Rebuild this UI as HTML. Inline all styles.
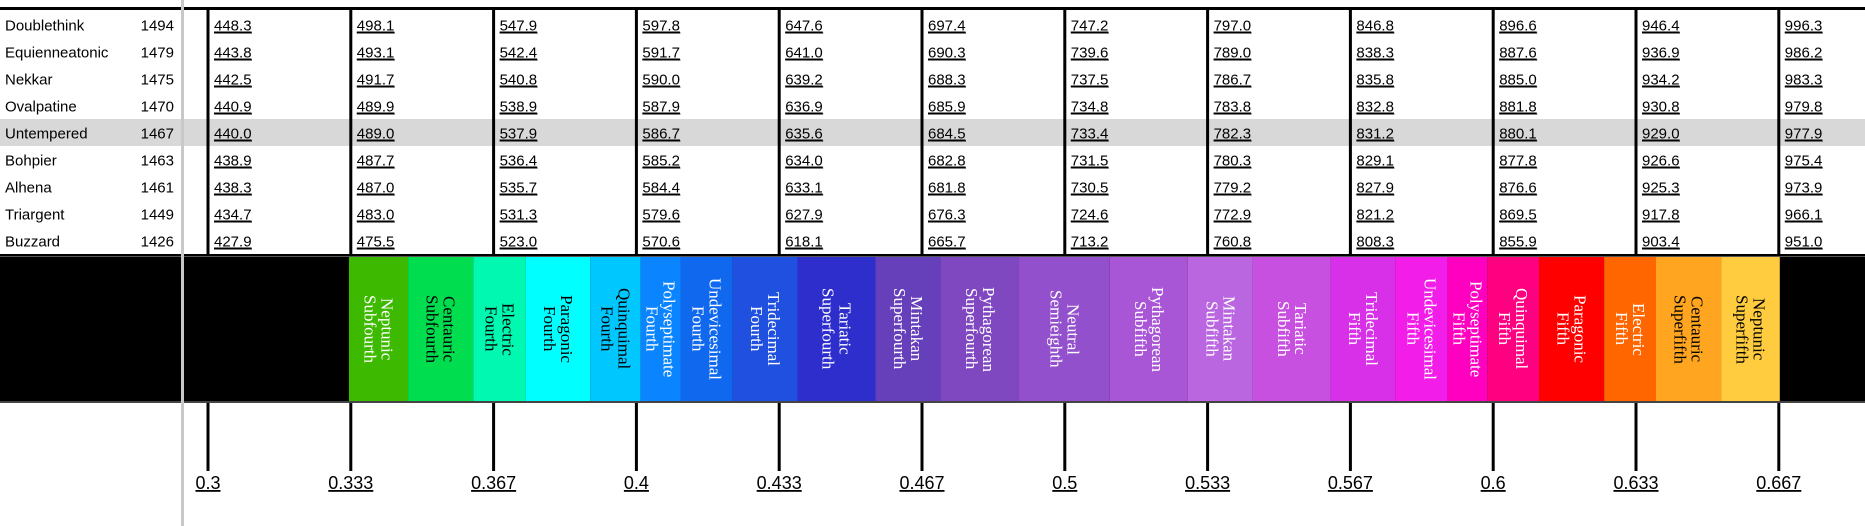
<!DOCTYPE html>
<html><head><meta charset="utf-8">
<style>
html,body{margin:0;padding:0;background:#fff;}
body{width:1865px;height:526px;overflow:hidden;position:relative;font-family:"Liberation Sans",sans-serif;}
svg{position:absolute;left:0;top:0;}
</style></head>
<body>
<svg id="chart" width="1865" height="526" xmlns="http://www.w3.org/2000/svg"></svg>
<script>
const tuningNames=["Doublethink","Equienneatonic","Nekkar","Ovalpatine","Untempered","Bohpier","Alhena","Triargent","Buzzard"];
const tuningCents=[1494,1479,1475,1470,1467,1463,1461,1449,1426];
const tickValues=[0.3,1/3,11/30,0.4,13/30,14/30,0.5,16/30,17/30,0.6,19/30,20/30];
const tickLabels=["0.3","0.333","0.367","0.4","0.433","0.467","0.5","0.533","0.567","0.6","0.633","0.667"];
const col0=[448.3,443.8,442.5,440.9,440.0,438.9,438.3,434.7,427.9];
const col1=[498.1,493.1,491.7,489.9,489.0,487.7,487.0,483.0,475.5];
const col2=[547.9,542.4,540.8,538.9,537.9,536.4,535.7,531.3,523.0];
const col3=[597.8,591.7,590.0,587.9,586.7,585.2,584.4,579.6,570.6];
const col4=[647.6,641.0,639.2,636.9,635.6,634.0,633.1,627.9,618.1];
const col5=[697.4,690.3,688.3,685.9,684.5,682.8,681.8,676.3,665.7];
const col6=[747.2,739.6,737.5,734.8,733.4,731.5,730.5,724.6,713.2];
const col7=[797.0,789.0,786.7,783.8,782.3,780.3,779.2,772.9,760.8];
const col8=[846.8,838.3,835.8,832.8,831.2,829.1,827.9,821.2,808.3];
const col9=[896.6,887.6,885.0,881.8,880.1,877.8,876.6,869.5,855.9];
const col10=[946.4,936.9,934.2,930.8,929.0,926.6,925.3,917.8,903.4];
const col11=[996.3,986.2,983.3,979.8,977.9,975.4,973.9,966.1,951.0];
const columns=[col0,col1,col2,col3,col4,col5,col6,col7,col8,col9,col10,col11];
const regionNames=["Neptunic Subfourth","Centauric Subfourth","Electric Fourth","Paragonic Fourth","Quinquimal Fourth","Polyseptimate Fourth","Undevicesimal Fourth","Tridecimal Fourth","Tariatic Superfourth","Mintakan Superfourth","Pythagorean Superfourth","Neutral Semieighth","Pythagorean Subfifth","Mintakan Subfifth","Tariatic Subfifth","Tridecimal Fifth","Undevicesimal Fifth","Polyseptimate Fifth","Quinquimal Fifth","Paragonic Fifth","Electric Fifth","Centauric Superfifth","Neptunic Superfifth"];
const regionBounds=[0.3329,0.3467,0.3619,0.3742,0.3892,0.4010,0.4103,0.4225,0.4376,0.4558,0.4711,0.4893,0.5105,0.5287,0.5439,0.5621,0.5771,0.5894,0.5986,0.6107,0.6259,0.6380,0.6532,0.6669];
const regionColors=["#3dba00","#00dd4f","#00f8b0","#00ffff","#00c8ff","#0a84ff","#1068ee","#1f50e0","#2e2ecc","#6640bb","#8048c0","#9350cc","#a855d6","#b966e0","#c850e0","#d830e8","#f21de8","#ff00c0","#ff0080","#ff0000","#ff6600","#ffa520","#ffcc40"];
const regionTextColors=["#fff","#000","#000","#000","#000","#fff","#fff","#fff","#fff","#fff","#fff","#fff","#fff","#fff","#fff","#fff","#fff","#fff","#fff","#fff","#fff","#000","#000"];
const highlightIndex=4;

const NS="http://www.w3.org/2000/svg";
const svg=document.getElementById('chart');
function x(v){return 208+(v-0.3)*30*142.8;}
const rowTop=12,rowH=27,bandTop=257,bandBot=401;
function mk(tag,attrs,parent){const e=document.createElementNS(NS,tag);for(const k in attrs)e.setAttribute(k,attrs[k]);(parent||svg).appendChild(e);return e;}

// highlight row
let hl=mk('rect',{x:0,y:rowTop+rowH*highlightIndex-1,width:1865,height:rowH,fill:'#d8d8d8'});


// top border
let tb=mk('rect',{x:0,y:7,width:1865,height:3,fill:'#000'});


// rows
tuningNames.forEach((n,i)=>{
  const cy=rowTop+rowH*i+rowH/2;
  let t=mk('text',{x:5,y:cy+5,'font-size':15,fill:'#000'});t.textContent=n;
  
  
  let c=mk('text',{x:174,y:cy+5,'font-size':15,fill:'#000','text-anchor':'end'});c.textContent=tuningCents[i];
  t=c;
  
  
});
// columns
columns.forEach((col,j)=>{
  const cx=x(tickValues[j]);
  let ln=mk('rect',{x:cx-1.5,y:8,width:3,height:bandTop-8,fill:'#000'});
  
  
  col.forEach((v,i)=>{
    const cy=rowTop+rowH*i+rowH/2;
    let t=mk('text',{x:cx+6,y:cy+5,'font-size':15,fill:'#000','text-decoration':'underline'});
    t.textContent=v.toFixed(1);
    
    
    mk('rect',{x:cx+6,y:cy+7,width:t.getComputedTextLength?38:38,height:1,fill:'#000'});
  });
});
// band background
let bb=mk('rect',{x:0,y:bandTop-3,width:1865,height:bandBot-bandTop+4,fill:'#000'});


mk('rect',{x:0,y:bandTop-1,width:1865,height:1,fill:'#555'});
mk('rect',{x:0,y:bandBot,width:1865,height:2,fill:'#444'});
// regions
regionNames.forEach((name,i)=>{
  const x0=x(regionBounds[i]),x1=x(regionBounds[i+1]);
  let r=mk('rect',{x:x0,y:bandTop,width:x1-x0,height:bandBot-bandTop,fill:regionColors[i]});
  
  
  const fo=mk('foreignObject',{x:x0,y:bandTop,width:x1-x0,height:bandBot-bandTop});
  const d=document.createElement('div');
  
  
  d.style.cssText='width:100%;height:100%;display:flex;align-items:center;justify-content:center;writing-mode:vertical-rl;font-family:"Liberation Serif",serif;font-size:17px;line-height:17px;text-align:center;color:'+regionTextColors[i];
  const parts=name.split(' ');
  d.innerHTML='<span>'+parts[0]+'<br>'+parts.slice(1).join(' ')+'</span>';
  fo.appendChild(d);
});
// ticks
tickValues.forEach((v,j)=>{
  const cx=x(v);
  let tk=mk('rect',{x:cx-1.5,y:bandBot+2,width:3,height:68,fill:'#000'});
  
  
  let t=mk('text',{x:cx,y:489,'font-size':18,fill:'#000','text-anchor':'middle','text-decoration':'underline'});
  t.textContent=tickLabels[j];
  
  
});
// divider
let dv=mk('rect',{x:181,y:0,width:3,height:526,fill:'#c8c8c8'});


</script>
</body></html>
